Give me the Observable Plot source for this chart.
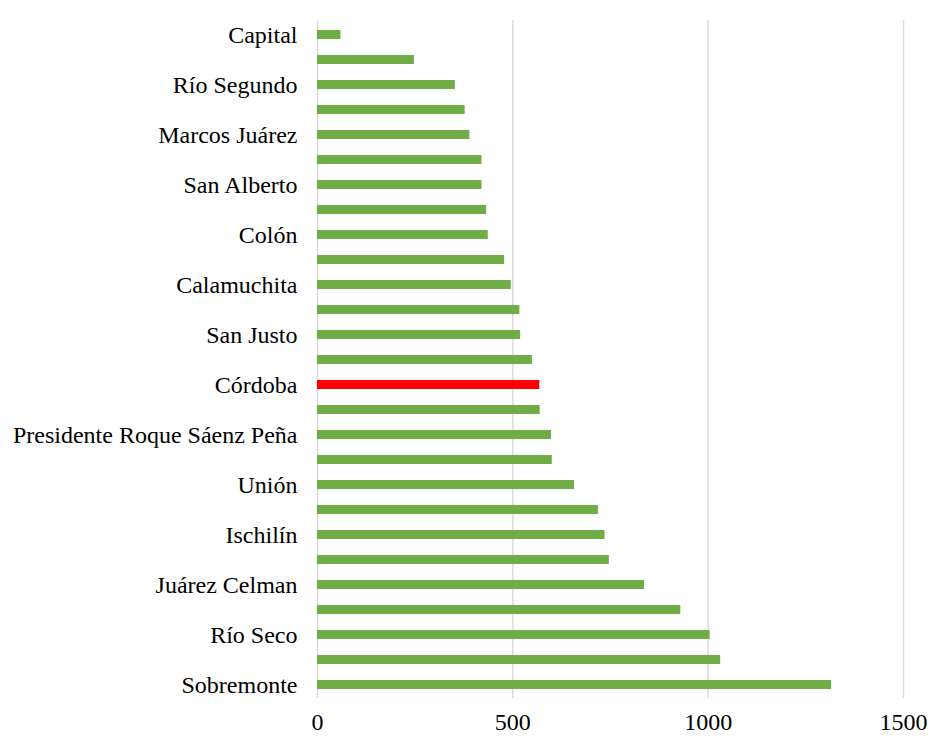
<!DOCTYPE html>
<html><head><meta charset="utf-8">
<script src="https://cdn.jsdelivr.net/npm/d3@7"></script>
<script src="https://cdn.jsdelivr.net/npm/@observablehq/plot@0.6"></script>
<style>body{margin:0;background:#fff}</style>
</head><body><div id="chart"></div>
<script>
// Departments, top to bottom (every other name is shown as a tick label, as in the reference)
const departments = [
  "Capital", "General San Martín", "Río Segundo", "Tercero Arriba", "Marcos Juárez",
  "Río Cuarto", "San Alberto", "Santa María", "Colón", "Punilla",
  "Calamuchita", "General Roca", "San Justo", "Río Primero", "Córdoba",
  "Cruz del Eje", "Presidente Roque Sáenz Peña", "San Javier", "Unión", "Totoral",
  "Ischilín", "Tulumba", "Juárez Celman", "Pocho", "Río Seco",
  "Minas", "Sobremonte"
];
const values = [
  60, 248, 353, 378, 390,
  421, 421, 433, 437, 479,
  496, 518, 520, 550, 569,
  570, 599, 601, 658, 719,
  736, 747, 837, 930, 1005,
  1032, 1316
];
const shownLabels = [
  "Capital", "Río Segundo", "Marcos Juárez", "San Alberto", "Colón", "Calamuchita",
  "San Justo", "Córdoba", "Presidente Roque Sáenz Peña", "Unión", "Ischilín",
  "Juárez Celman", "Río Seco", "Sobremonte"
];
const highlight = "Córdoba";
const xTicks = [0, 500, 1000, 1500];

const data = departments.map((name, i) => ({name, value: values[i]}));
const shown = new Set(shownLabels);

const plot = Plot.plot({
  width: 930, height: 736,
  marginLeft: 317, marginRight: 27, marginTop: 20, marginBottom: 38,
  style: {fontFamily: "'Liberation Serif', 'Times New Roman', serif", fontSize: "24px", color: "#000", background: "#fff"},
  x: {domain: [0, 1500], label: null},
  y: {domain: departments, paddingInner: 0.64, paddingOuter: 0.32, label: null},
  marks: [
    Plot.gridX(xTicks, {stroke: "#d9d9d9", strokeOpacity: 1, strokeWidth: 1.5}),
    Plot.barX(data.filter(d => d.name !== highlight), {x: "value", y: "name", fill: "#70ad47"}),
    Plot.barX(data.filter(d => d.name === highlight), {x: "value", y: "name", fill: "#ff0000"}),
    Plot.axisX({ticks: xTicks, tickSize: 0, tickPadding: 14, label: null, fontSize: 24, fill: "#000",
      tickFormat: d => String(d)}),
    Plot.axisY({tickSize: 0, tickPadding: 20, label: null, fontSize: 24, fill: "#000",
      tickFormat: d => shown.has(d) ? d : ""})
  ]
});
document.getElementById("chart").append(plot);
</script>
</body></html>
